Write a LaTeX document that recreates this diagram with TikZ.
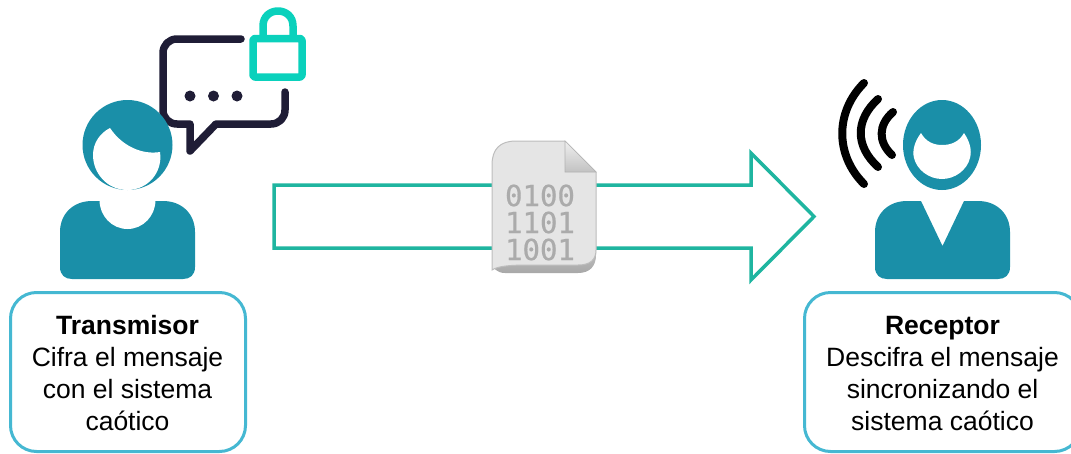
\documentclass[tikz,border=0pt]{standalone}
\usepackage{fontspec}
\setmainfont{Liberation Sans}
\newfontfamily\monobin[FakeBold=0.6]{DejaVu Sans Mono}
\definecolor{personc}{HTML}{1A8FA8}
\definecolor{bubblec}{HTML}{1F1D36}
\definecolor{lockc}{HTML}{0AD1BC}
\definecolor{arrowc}{HTML}{1FB5A0}
\definecolor{boxc}{HTML}{45B8D2}
\definecolor{binc}{HTML}{ABABAB}
\tikzset{
  x=1pt,y=-1pt,
  person/.style={fill=personc,draw=none},
  cutout/.style={fill=white,draw=none},
  bubbleline/.style={draw=bubblec,line width=7.5pt,line cap=round,line join=round},
  lockline/.style={draw=lockc,line width=7.5pt,line join=round},
  wave/.style={draw=black,line width=8pt,line cap=round},
  infobox/.style={draw=boxc,line width=3pt,rounded corners=26pt,fill=white,inner sep=0pt,outer sep=0pt,anchor=north west},
  infotext/.style={align=center,font=\fontsize{26.5}{32}\selectfont,text=black,inner sep=0pt},
  bigarrow/.style={draw=arrowc,line width=3.5pt,miter limit=10},
  bintext/.style={align=center,font=\monobin\fontsize{29}{27}\selectfont,text=binc,inner sep=0pt},
}
\begin{document}
\begin{tikzpicture}
\useasboundingbox (0,0) rectangle (1071,453);
% arrow
\draw[bigarrow] (274,185) -- (751,185) -- (751,153) -- (814,216.5) -- (751,280) -- (751,248) -- (274,248) -- cycle;
% file icon
\shade[top color=black!18,bottom color=black!34,draw=none] (492,250) -- (492,262) .. controls (492,268) and (497,273) .. (505,273) -- (578,273) .. controls (590,273) and (596,266) .. (596,255) -- (596,230) -- cycle;
\fill[black!10,draw=black!26,line width=1pt] (492,165) .. controls (492,149) and (500,141) .. (516,141) -- (565,141) -- (596,172) -- (596,250) .. controls (596,260) and (590,265) .. (578,265) -- (530,265) .. controls (510,265) and (498,266) .. (492,270) -- cycle;
\shade[top color=black!6,bottom color=black!24,draw=black!30,line width=.6pt] (565,141) -- (565,172) -- (596,172) -- cycle;
\node[bintext] (bits) at (540,222.5) {0100\\1101\\1001};
% bubble
\draw[bubbleline] (241,39) -- (177,39) .. controls (169,39) and (163,45) .. (163,53) -- (163,110) .. controls (163,118) and (169,124) .. (177,124) -- (190,124) -- (190,151) -- (216,124) -- (271,124) .. controls (279,124) and (285,118) .. (285,110) -- (285,92);
\fill[bubblec] (190,96) circle[radius=5.5];
\fill[bubblec] (213.5,96) circle[radius=5.5];
\fill[bubblec] (237,96) circle[radius=5.5];
% lock
\draw[lockline,rounded corners=2pt] (253,38.5) rectangle (302,77);
\draw[lockline] (263,38) -- (263,26) .. controls (263,6) and (293,6) .. (293,26) -- (293,38);
% transmitter
\fill[person] (127.5,145) circle[radius=45];
\fill[cutout] (110,128) .. controls (122,146) and (142,155) .. (160,152) .. controls (163,172) and (148,190) .. (127.5,190) .. controls (107,190) and (93,173) .. (93,155) .. controls (93,143) and (100,133) .. (110,128) -- cycle;
\fill[person] (60,232) .. controls (60,214) and (73,201) .. (92,201) -- (163,201) .. controls (182,201) and (195,214) .. (195,232) -- (195,267) .. controls (195,275) and (190,279) .. (183,279) -- (72,279) .. controls (65,279) and (60,275) .. (60,267) -- cycle;
\fill[cutout] (99.5,200) -- (155.5,200) .. controls (155.5,216) and (143,229) .. (127.5,229) .. controls (112,229) and (99.5,216) .. (99.5,200) -- cycle;
% waves
\draw[wave] (864,83) .. controls (835,112) and (835,155) .. (864,184);
\draw[wave] (878,99) .. controls (855,120) and (855,146) .. (878,167);
\draw[wave] (893,112) .. controls (878,125) and (878,142) .. (892,155);
% receiver
\fill[person] (942,145) ellipse[x radius=39,y radius=45];
\fill[cutout] (921,133) .. controls (926,142) and (934,145) .. (942,145) .. controls (951,145) and (959,142) .. (964,133) .. controls (970,142) and (972,150) .. (970,158) .. controls (967,170) and (955,179) .. (942,179) .. controls (929,179) and (917,170) .. (914,158) .. controls (912,150) and (915,141) .. (921,133) -- cycle;
\fill[person] (875,232) .. controls (875,214) and (888,201) .. (907,201) -- (921,201) -- (942.5,246) -- (964,201) -- (978,201) .. controls (997,201) and (1010,214) .. (1010,232) -- (1010,267) .. controls (1010,275) and (1005,279) .. (998,279) -- (887,279) .. controls (880,279) and (875,275) .. (875,267) -- cycle;
% boxes
\node[infobox,minimum width=235pt,minimum height=159pt] (txbox) at (10.5,292.5) {};
\node[infobox,minimum width=276pt,minimum height=159pt] (rxbox) at (804.5,292.5) {};
\node[infotext] (txlabel) at (127.5,373.5) {\textbf{Transmisor}\\Cifra el mensaje\\con el sistema\\caótico};
\node[infotext] (rxlabel) at (942.5,373.5) {\textbf{Receptor}\\Descifra el mensaje\\sincronizando el\\sistema caótico};
\end{tikzpicture}
\end{document}
